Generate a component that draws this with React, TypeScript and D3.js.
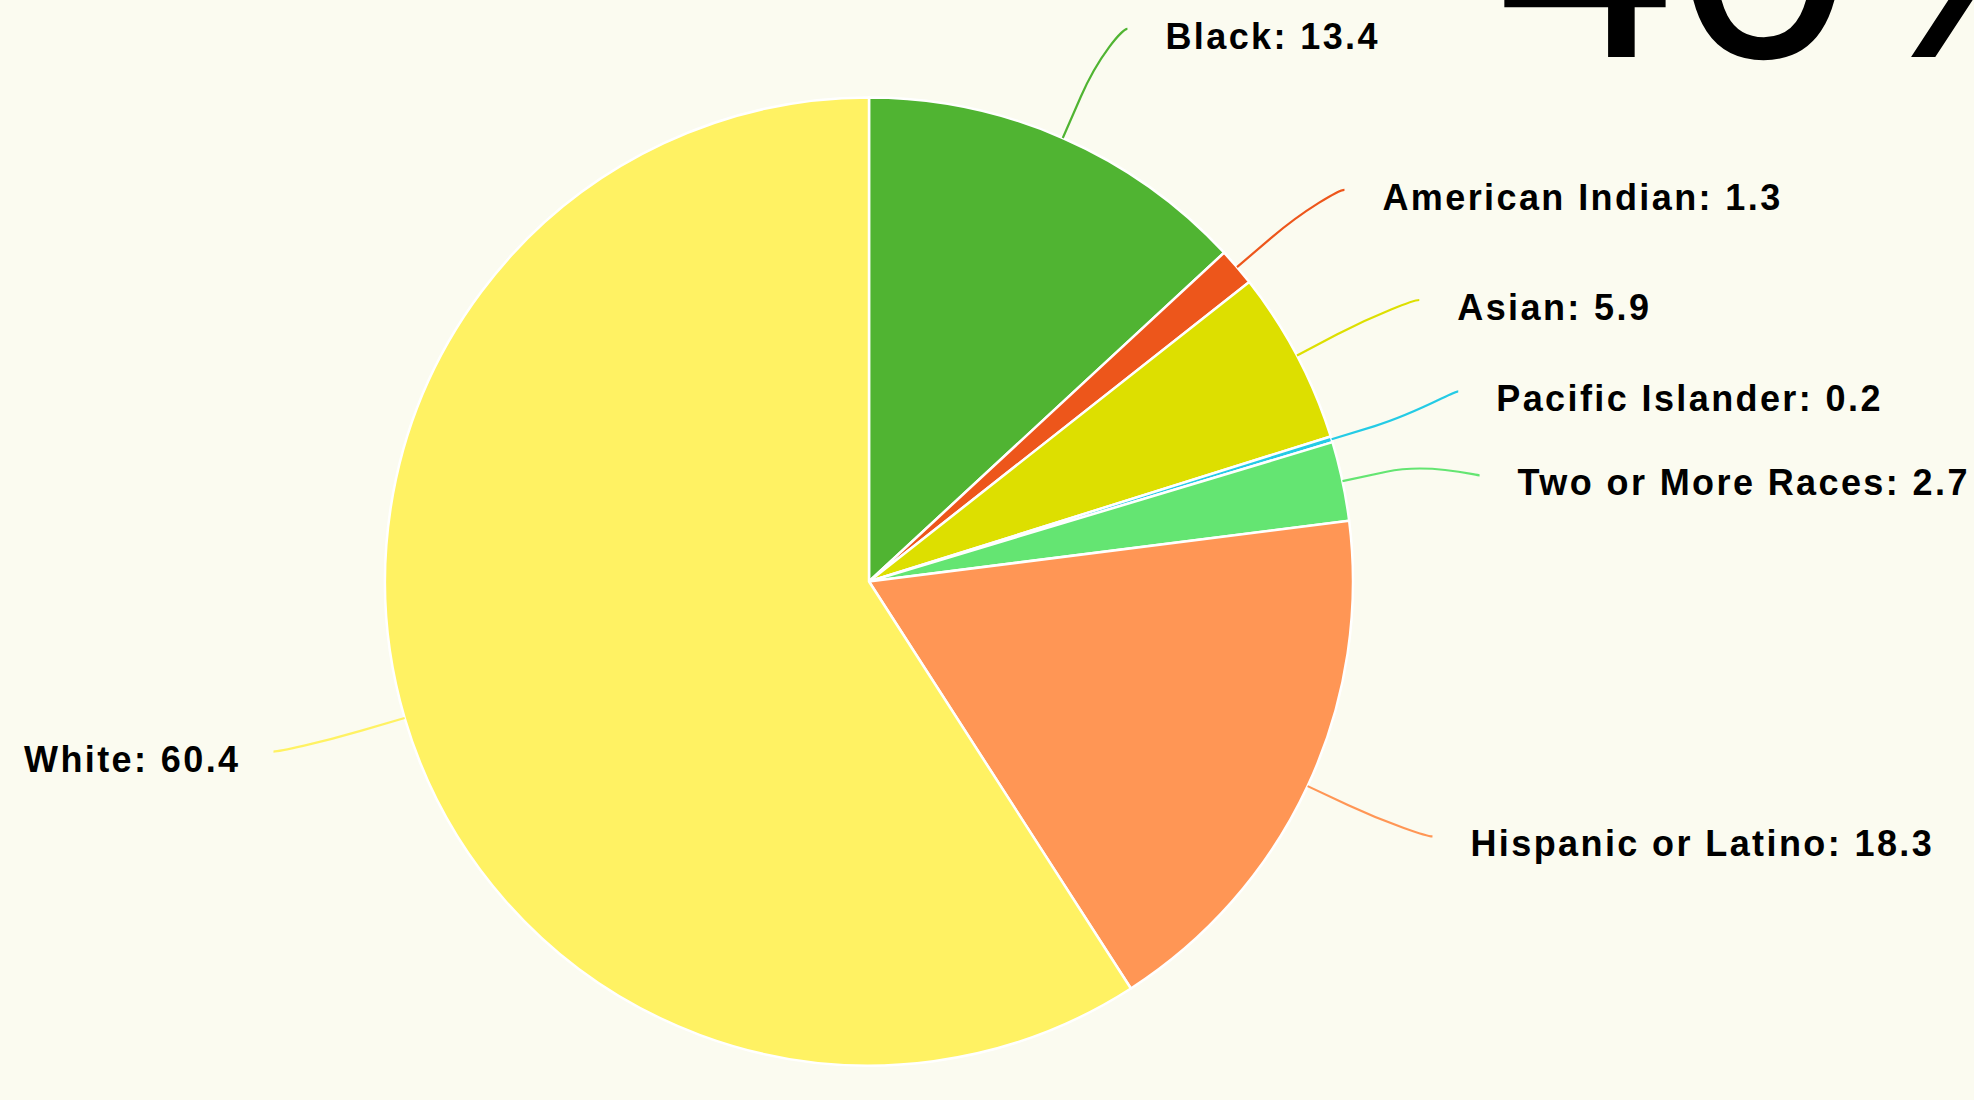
import React from "react";
import * as d3 from "d3";

const categories = [
  "Black",
  "American Indian",
  "Asian",
  "Pacific Islander",
  "Two or More Races",
  "Hispanic or Latino",
  "White",
];
const values = [13.4, 1.3, 5.9, 0.2, 2.7, 18.3, 60.4];
const colors = ["#50B432", "#ED561B", "#DDDF00", "#24CBE5", "#64E572", "#FF9655", "#FFF263"];
const headline = "40%";

const W = 1974;
const H = 1100;
const CX = 869;
const CY = 581.5;
const R = 484;
const LABEL_R = 603;
const LABEL_GAP = 84;
const BREAK_OFF = 45;

type Lab = {
  i: number;
  a: number;
  side: number;
  y0: number;
  y: number;
};

function distribute(items: Lab[], gap: number) {
  items.sort((p, q) => p.y0 - q.y0);
  let groups = items.map((it) => ({ members: [it], start: it.y0 }));
  const place = (g: { members: Lab[]; start: number }) => {
    const mean = d3.mean(g.members, (m) => m.y0) as number;
    g.start = mean - ((g.members.length - 1) * gap) / 2 + 3;
  };
  let changed = true;
  while (changed) {
    changed = false;
    for (let k = 0; k < groups.length - 1; k++) {
      const a = groups[k];
      const b = groups[k + 1];
      const aEnd = a.start + (a.members.length - 1) * gap;
      if (b.start - aEnd < gap) {
        const m = { members: a.members.concat(b.members), start: 0 };
        place(m);
        groups.splice(k, 2, m);
        changed = true;
        break;
      }
    }
  }
  groups.forEach((g) => g.members.forEach((m, j) => (m.y = g.start + j * gap)));
}

export default function App() {
  const pie = d3.pie<number>().sort(null).value((d) => d);
  const arcs = pie(values);
  const arc = d3.arc<d3.PieArcDatum<number>>().innerRadius(0).outerRadius(R);

  const labs: Lab[] = arcs.map((d, i) => {
    const a = (d.startAngle + d.endAngle) / 2;
    const side = Math.sin(a) >= 0 ? 1 : -1;
    const y0 = CY - LABEL_R * Math.cos(a);
    return { i, a, side, y0, y: y0 };
  });
  distribute(labs.filter((l) => l.side > 0), LABEL_GAP);
  distribute(labs.filter((l) => l.side < 0), LABEL_GAP);
  labs.sort((p, q) => p.i - q.i);

  const pt = (a: number, r: number) => [CX + r * Math.sin(a), CY - r * Math.cos(a)];

  return (
    <div style={{ position: "fixed", left: 0, top: 0, width: W, height: H }}>
      <svg width={W} height={H} style={{ display: "block" }}>
        <rect x={0} y={0} width={W} height={H} fill="#fbfbf0" />
        <text
          x={1497}
          y={57}
          fontFamily="'Liberation Sans', Arial, sans-serif"
          fontSize={320}
          fill="#000"
        >
          {headline}
        </text>
        <g transform={`translate(${CX},${CY})`}>
          {arcs.map((d, i) => (
            <path
              key={i}
              d={arc(d) as string}
              fill={colors[i]}
              stroke="#ffffff"
              strokeWidth={2.5}
              strokeLinejoin="round"
            />
          ))}
        </g>
        {labs.map((l) => {
          const dy = l.y - CY;
          const px = CX + l.side * (Math.sqrt(Math.max(0, LABEL_R * LABEL_R - dy * dy)) + 17);
          const py = l.y;
          const [tx, ty] = pt(l.a, R);
          const [bx, by] = pt(l.a, R + BREAK_OFF);
          const [c2x, c2y] = pt(l.a, R + 2 * BREAK_OFF);
          const c1x = px - l.side * 5;
          const path = `M${px},${py} C${c1x},${py} ${c2x},${c2y} ${bx},${by} L${tx},${ty}`;
          return (
            <g key={l.i}>
              <path d={path} fill="none" stroke={colors[l.i]} strokeWidth={2.2} />
              <text
                x={l.side > 0 ? px + 38 : px - 33}
                y={py + 20}
                textAnchor={l.side > 0 ? "start" : "end"}
                fontFamily="'Liberation Sans', Arial, sans-serif"
                fontWeight="bold"
                fontSize={36}
                letterSpacing={2.4}
                fill="#000"
              >
                {`${categories[l.i]}: ${values[l.i]}`}
              </text>
            </g>
          );
        })}
      </svg>
    </div>
  );
}
